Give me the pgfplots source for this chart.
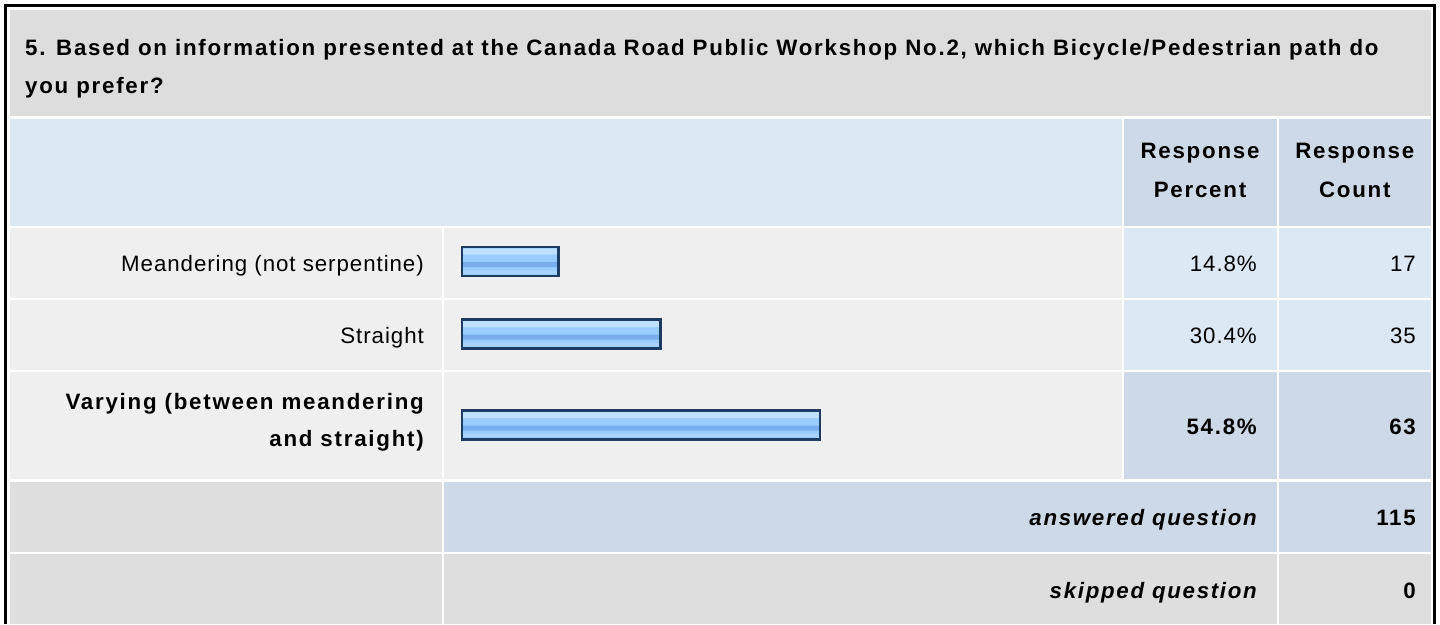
\documentclass[border=0pt]{standalone}
\usepackage{pgfplots}
\pgfplotsset{compat=1.18}
\usepackage{fontspec}
\setmainfont{Liberation Sans}[LetterSpace=4.2, BoldFeatures={LetterSpace=7.9}, BoldItalicFeatures={LetterSpace=7.6}]
\definecolor{titlegray}{HTML}{DDDDDD}
\definecolor{rowgray}{HTML}{EFEFEF}
\definecolor{footgray}{HTML}{DEDEDE}
\definecolor{lightblue}{HTML}{DDE8F5}
\definecolor{bluegray}{HTML}{CDD9E6}
\definecolor{barnavy}{HTML}{1E3B63}
\definecolor{barbase}{HTML}{99CCFF}
\definecolor{bartop}{HTML}{BFE0FF}
\definecolor{barmid}{HTML}{78AEEE}
\definecolor{barlow}{HTML}{AAD4FF}
\pgfplotstableread{
pct ypix
14.8 261.5
30.4 334
54.8 425
}\bardata
\begin{document}
\begin{tikzpicture}[every node/.style={font=\fontsize{22.3}{38}\selectfont, inner sep=0pt, text=black}]
\begin{axis}[at={(0pt,0pt)}, anchor=south west, scale only axis,
  x=1pt, y=1pt, xmin=0, xmax=1440, ymin=0, ymax=624, y dir=reverse,
  hide axis, clip=false]
% background and frame
\fill[white] (axis cs:0,0) rectangle (axis cs:1440,624);
\fill[black] (axis cs:4,4) rectangle (axis cs:1436,624);
\fill[white] (axis cs:7,7) rectangle (axis cs:1433,624);
% title row
\fill[titlegray] (axis cs:9.5,9.5) rectangle (axis cs:1431,116);
% header row
\fill[lightblue] (axis cs:9.5,118.5) rectangle (axis cs:1122,226);
\fill[bluegray] (axis cs:1124,118.5) rectangle (axis cs:1276.5,226);
\fill[bluegray] (axis cs:1278.5,118.5) rectangle (axis cs:1431,226);
% row 1
\fill[rowgray] (axis cs:9.5,228) rectangle (axis cs:442,298);
\fill[rowgray] (axis cs:444,228) rectangle (axis cs:1122,298);
\fill[lightblue] (axis cs:1124,228) rectangle (axis cs:1276.5,298);
\fill[lightblue] (axis cs:1278.5,228) rectangle (axis cs:1431,298);
% row 2
\fill[rowgray] (axis cs:9.5,300) rectangle (axis cs:442,370);
\fill[rowgray] (axis cs:444,300) rectangle (axis cs:1122,370);
\fill[lightblue] (axis cs:1124,300) rectangle (axis cs:1276.5,370);
\fill[lightblue] (axis cs:1278.5,300) rectangle (axis cs:1431,370);
% row 3
\fill[rowgray] (axis cs:9.5,372) rectangle (axis cs:442,479);
\fill[rowgray] (axis cs:444,372) rectangle (axis cs:1122,479);
\fill[bluegray] (axis cs:1124,372) rectangle (axis cs:1276.5,479);
\fill[bluegray] (axis cs:1278.5,372) rectangle (axis cs:1431,479);
% answered
\fill[footgray] (axis cs:9.5,481.5) rectangle (axis cs:442,552);
\fill[bluegray] (axis cs:444,481.5) rectangle (axis cs:1276.5,552);
\fill[bluegray] (axis cs:1278.5,481.5) rectangle (axis cs:1431,552);
% skipped
\fill[footgray] (axis cs:9.5,554) rectangle (axis cs:442,624);
\fill[footgray] (axis cs:444,554) rectangle (axis cs:1276.5,624);
\fill[footgray] (axis cs:1278.5,554) rectangle (axis cs:1431,624);
% texts
\node[anchor=base west] at (axis cs:25,55) {\bfseries 5. Based on information presented at the Canada Road Public Workshop No.2, which Bicycle/Pedestrian path do};
\node[anchor=base west] at (axis cs:25,93) {\bfseries you prefer?};
\node[anchor=base] at (axis cs:1200,158.5) {\bfseries Response};
\node[anchor=base] at (axis cs:1200,197) {\bfseries Percent};
\node[anchor=base] at (axis cs:1354.75,158.5) {\bfseries Response};
\node[anchor=base] at (axis cs:1354.75,197) {\bfseries Count};
\node[anchor=base east] at (axis cs:424,271.5) {Meandering (not serpentine)};
\node[anchor=base east] at (axis cs:424,343.5) {Straight};
\node[anchor=base east] at (axis cs:424,409) {\bfseries Varying (between meandering};
\node[anchor=base east] at (axis cs:424,446) {\bfseries and straight)};
\node[anchor=base east] at (axis cs:1257,271.5) {14.8\%};
\node[anchor=base east] at (axis cs:1257,343.5) {30.4\%};
\node[anchor=base east] at (axis cs:1257,434) {\bfseries 54.8\%};
\node[anchor=base east] at (axis cs:1416,271.5) {17};
\node[anchor=base east] at (axis cs:1416,343.5) {35};
\node[anchor=base east] at (axis cs:1416,434) {\bfseries 63};
\node[anchor=base east] at (axis cs:1257,525) {\bfseries\itshape answered question};
\node[anchor=base east] at (axis cs:1416,525) {\bfseries 115};
\node[anchor=base east] at (axis cs:1257,598) {\bfseries\itshape skipped question};
\node[anchor=base east] at (axis cs:1416,598) {\bfseries 0};
\end{axis}
\begin{axis}[at={(462pt,0pt)}, anchor=south west, scale only axis,
  x=6.53pt, y=1pt, xmin=0, xmax=100, ymin=0, ymax=624, y dir=reverse,
  hide axis, clip=false, xbar]
% base fill
\addplot[draw=none, fill=barbase, bar width=29pt, bar shift=0pt]
  table[x=pct, y=ypix] {\bardata};
% light upper band
\addplot[draw=none, fill=bartop, bar width=6pt, bar shift=10pt]
  table[x=pct, y=ypix] {\bardata};
% darker middle band
\addplot[draw=none, fill=barmid, bar width=5pt, bar shift=-3pt]
  table[x=pct, y=ypix] {\bardata};
% light lower band
\addplot[draw=none, fill=barlow, bar width=3pt, bar shift=-10.5pt]
  table[x=pct, y=ypix] {\bardata};
% outline
\addplot[draw=barnavy, fill=none, line width=2.4pt, bar width=29pt, bar shift=0pt]
  table[x=pct, y=ypix] {\bardata};
\end{axis}
\end{tikzpicture}
\end{document}
